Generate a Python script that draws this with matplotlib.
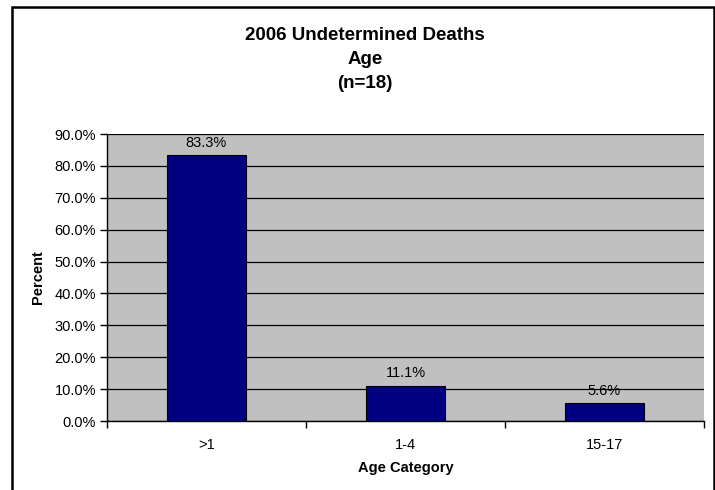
import matplotlib
matplotlib.use("Agg")
import matplotlib.pyplot as plt
from matplotlib.patches import Rectangle
from matplotlib.ticker import FuncFormatter, MultipleLocator

categories = [">1", "1-4", "15-17"]
values = [83.3, 11.1, 5.6]
labels = ["83.3%", "11.1%", "5.6%"]

plt.rcParams['font.family'] = ['Liberation Sans', 'DejaVu Sans']

fig = plt.figure(figsize=(7.15, 4.9), dpi=100)
fig.patch.set_facecolor('white')

# outer chart border
border = Rectangle((12/715, -0.05), (714-12)/715, 1 - 7/490 + 0.05,
                   transform=fig.transFigure, fill=False, edgecolor='black',
                   linewidth=1.8, clip_on=False)
fig.patches.append(border)

ax = fig.add_axes([107/715, 1 - 421/490, (704-107)/715, (421-134)/490])
ax.set_facecolor('#C0C0C0')

x = list(range(len(categories)))
ax.bar(x, values, width=0.4, color='#000080', edgecolor='black', linewidth=0.8, zorder=3)
for xi, v, lab in zip(x, values, labels):
    ax.annotate(lab, (xi, v), xytext=(0, 4), textcoords='offset points',
                ha='center', va='bottom', fontsize=10.5, color='black')

ax.set_xlim(-0.5, 2.5)
ax.set_ylim(0, 90)
ax.yaxis.set_major_locator(MultipleLocator(10))
ax.yaxis.set_major_formatter(FuncFormatter(lambda v, p: f"{v:.1f}%"))
ax.grid(axis='y', color='black', linewidth=0.9, zorder=1)
ax.set_axisbelow(True)

ax.set_xticks(x)
ax.set_xticklabels(categories, fontsize=10.5)
ax.set_xticks([-0.5, 0.5, 1.5, 2.5], minor=True)
ax.tick_params(axis='x', which='major', length=0, pad=12)
ax.tick_params(axis='x', which='minor', length=5, width=1, direction='out')
ax.tick_params(axis='y', length=5, width=1, direction='out', labelsize=10.5, pad=3)

for s in ['top', 'right']:
    ax.spines[s].set_visible(False)
ax.spines['left'].set_linewidth(1)
ax.spines['bottom'].set_linewidth(1)

ax.set_xlabel("Age Category", fontsize=10.5, fontweight='bold', labelpad=7)
ax.set_ylabel("Percent", fontsize=10.5, fontweight='bold', labelpad=7)

fig.text(365/715, 1 - 59.5/490, "2006 Undetermined Deaths\nAge\n(n=18)", ha='center', va='center',
         fontsize=13.5, fontweight='bold', linespacing=1.5)

fig.savefig("out.png", dpi=100)
